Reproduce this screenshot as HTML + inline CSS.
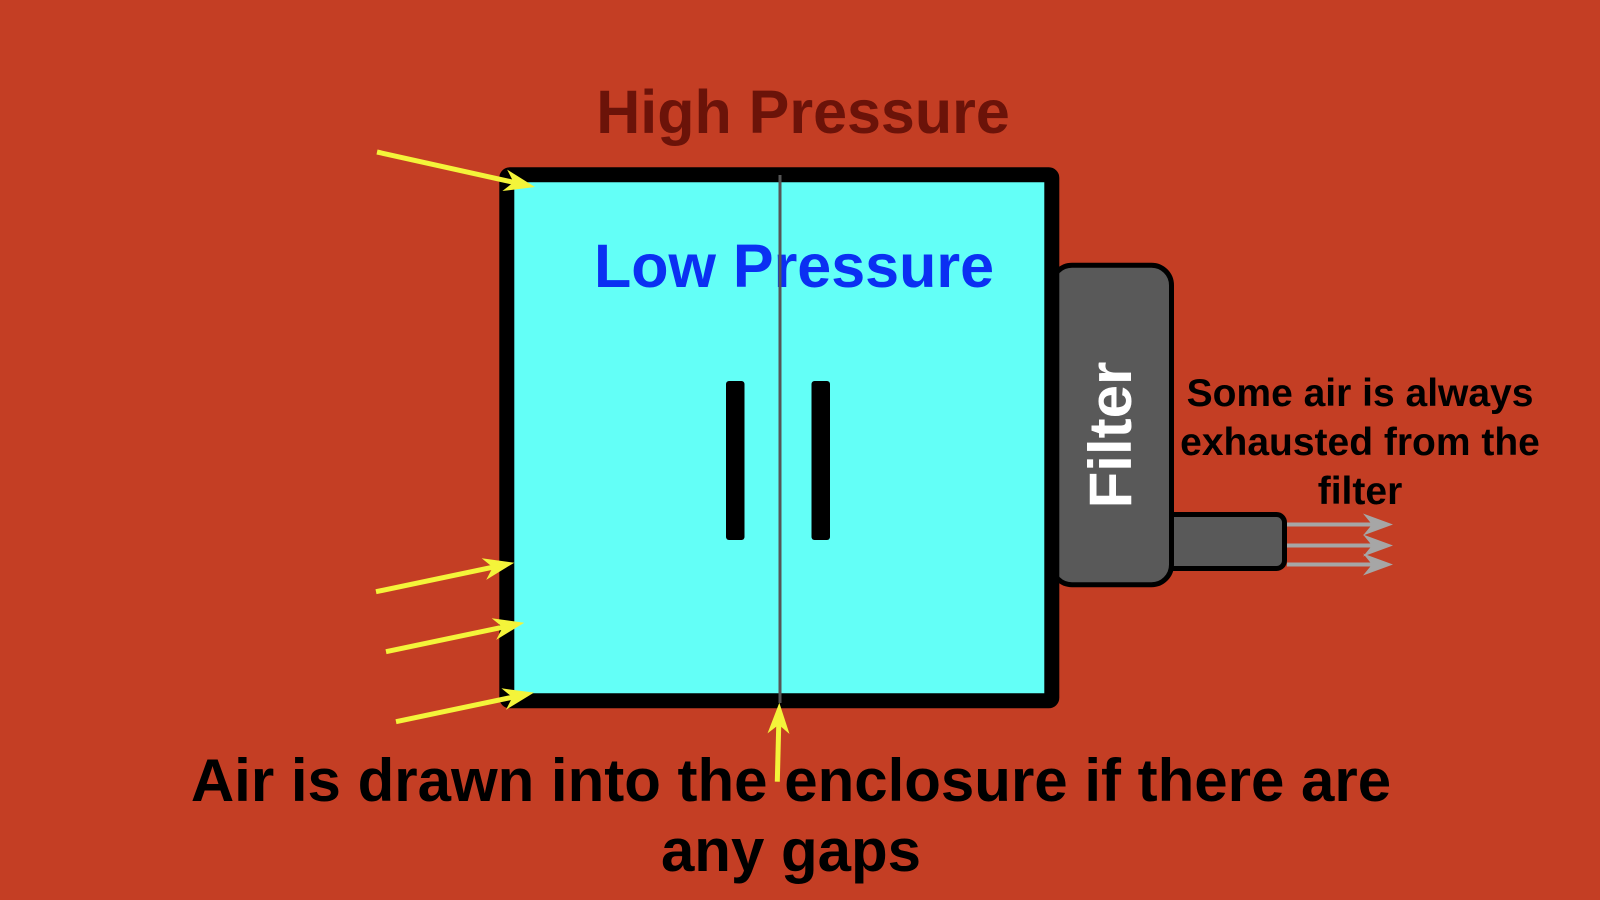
<!DOCTYPE html>
<html>
<head>
<meta charset="utf-8">
<style>
  html,body{margin:0;padding:0;background:#C43E24;}
  body{width:1600px;height:900px;overflow:hidden;}
  svg{display:block;}
  text{font-family:"Liberation Sans",Arial,sans-serif;font-weight:bold;}
</style>
</head>
<body>
<svg width="1600" height="900" viewBox="0 0 1600 900" xmlns="http://www.w3.org/2000/svg">
  <defs>
    <marker id="ya" viewBox="-1 -13 34 26" refX="11" refY="0" markerWidth="34" markerHeight="26" markerUnits="userSpaceOnUse" orient="auto">
      <path d="M31,0 L0,-11 L9,0 L0,11 Z" fill="#F4F43A"/>
    </marker>
    <marker id="ga" viewBox="-1 -13 34 26" refX="11" refY="0" markerWidth="34" markerHeight="26" markerUnits="userSpaceOnUse" orient="auto">
      <path d="M30,0 L0,-11 L9,0 L0,11 Z" fill="#A6A6A6"/>
    </marker>
  </defs>

  <rect x="0" y="0" width="1600" height="900" fill="#C43E24"/>

  <!-- High Pressure -->
  <text x="803" y="133" font-size="61" fill="#6B1309" text-anchor="middle">High Pressure</text>

  <!-- nozzle -->
  <rect x="1160" y="514.5" width="124.5" height="54" rx="8" ry="8" fill="#595959" stroke="#000" stroke-width="5"/>
  <!-- filter -->
  <rect x="1052" y="265.2" width="119.5" height="319.5" rx="20" ry="20" fill="#595959" stroke="#000" stroke-width="5"/>

  <!-- enclosure -->
  <rect x="506.8" y="174.8" width="545" height="526" rx="3" ry="3" fill="#63FFF7" stroke="#000" stroke-width="15"/>

  <!-- Low Pressure -->
  <text x="794" y="287" font-size="61" fill="#0B30F2" text-anchor="middle">Low Pressure</text>

  <!-- slots -->
  <rect x="726" y="381" width="18.5" height="159" rx="3" ry="3" fill="#000"/>
  <rect x="811.5" y="381" width="18.5" height="159" rx="3" ry="3" fill="#000"/>

  <!-- center seam -->
  <line x1="780" y1="175" x2="780" y2="703" stroke="#555555" stroke-width="3"/>

  <!-- Filter label -->
  <text transform="translate(1131,435) rotate(-90)" x="0" y="0" font-size="60" fill="#FFFFFF" text-anchor="middle">Filter</text>

  <!-- right explanatory text -->
  <text x="1360" y="406" font-size="39" fill="#000" text-anchor="middle">Some air is always</text>
  <text x="1360" y="455" font-size="39" fill="#000" text-anchor="middle">exhausted from the</text>
  <text x="1360" y="504" font-size="39" fill="#000" text-anchor="middle">filter</text>

  <!-- gray exhaust arrows -->
  <line x1="1287" y1="524.5" x2="1374" y2="524.5" stroke="#A6A6A6" stroke-width="4" marker-end="url(#ga)"/>
  <line x1="1287" y1="545.5" x2="1374" y2="545.5" stroke="#A6A6A6" stroke-width="4" marker-end="url(#ga)"/>
  <line x1="1287" y1="564.5" x2="1374" y2="564.5" stroke="#A6A6A6" stroke-width="4" marker-end="url(#ga)"/>

  <!-- bottom text -->
  <text x="791" y="801" font-size="60" fill="#000" text-anchor="middle">Air is drawn into the enclosure if there are</text>
  <text x="791" y="871" font-size="60" fill="#000" text-anchor="middle">any gaps</text>

  <!-- yellow arrows -->
  <line x1="377" y1="152" x2="515.5" y2="182.7" stroke="#F4F43A" stroke-width="5" marker-end="url(#ya)"/>
  <line x1="376" y1="591.7" x2="494.7" y2="566.8" stroke="#F4F43A" stroke-width="5" marker-end="url(#ya)"/>
  <line x1="386" y1="651.7" x2="504.7" y2="626.8" stroke="#F4F43A" stroke-width="5" marker-end="url(#ya)"/>
  <line x1="396" y1="721.7" x2="514.4" y2="696.8" stroke="#F4F43A" stroke-width="5" marker-end="url(#ya)"/>
  <line x1="777.3" y1="781.7" x2="778.8" y2="722.7" stroke="#F4F43A" stroke-width="5" marker-end="url(#ya)"/>
</svg>
</body>
</html>
